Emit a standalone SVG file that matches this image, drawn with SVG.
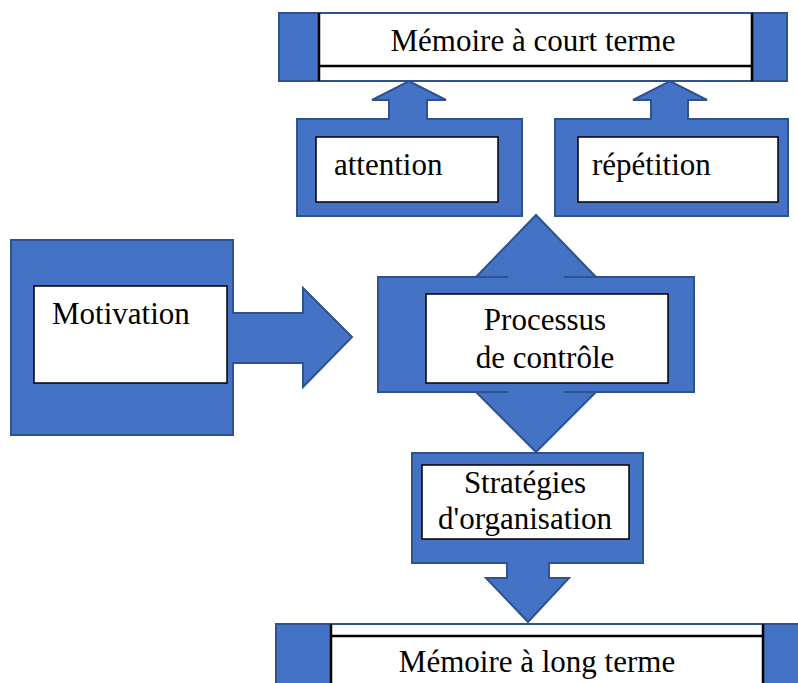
<svg xmlns="http://www.w3.org/2000/svg" width="798" height="683" viewBox="0 0 798 683">
<style>
.blue{fill:#4472C4;stroke:#2F528F;stroke-width:2;stroke-linejoin:miter}
.box{fill:#FFFFFF;stroke:#000000;stroke-width:1.5}
.ln{stroke:#000000;stroke-width:2.5;fill:none}
text{font-family:'Liberation Serif','Times New Roman','DejaVu Serif',serif;font-size:31px;fill:#000000}
.c{text-anchor:middle}
</style>
<rect width="798" height="683" fill="#FFFFFF"/>
<g id="connectors"/>
<g id="memoire-court-terme">
<rect class="blue" x="279" y="13" width="508" height="68"/>
<rect x="319" y="14" width="433" height="66" fill="#FFFFFF"/>
<path class="ln" d="M319,13 V81 M752,13 V81 M319,66 H752"/>
<text class="c" x="533" y="51" font-family="Liberation Serif, serif">Mémoire à court terme</text>
</g>
<g id="attention">
<path class="blue" d="M297,119 H389 V100 H372 L409,81 L446,100 H427 V119 H522 V216 H297 Z"/>
<rect class="box" x="316" y="137" width="182" height="65"/>
<text x="334" y="175" font-family="Liberation Serif, serif">attention</text>
</g>
<g id="repetition">
<path class="blue" d="M555,119 H651 V100 H633 L670,81 L707,100 H688 V119 H788 V216 H555 Z"/>
<rect class="box" x="578" y="137" width="200" height="65"/>
<text x="592" y="175" font-family="Liberation Serif, serif">répétition</text>
</g>
<g id="motivation">
<path class="blue" d="M11,240 H233 V313 H303 V288 L352,337 L303,387 V363 H233 V435 H11 Z"/>
<rect class="box" x="34" y="286" width="193" height="97"/>
<text x="52" y="324" font-family="Liberation Serif, serif">Motivation</text>
</g>
<g id="processus-controle">
<path class="blue" d="M378,277 H508 H476 L536,215 L596,277 H564 H694 V392 H564 H596 L536,452 L476,392 H508 H378 Z"/>
<rect class="box" x="426" y="294" width="242" height="89"/>
<text class="c" x="545" y="330" font-family="Liberation Serif, serif">Processus</text>
<text class="c" x="545" y="368" font-family="Liberation Serif, serif">de contrôle</text>
</g>
<g id="strategies-organisation">
<path class="blue" d="M412,453 H643 V563 H549 V578 H569 L528,622 L486,578 H507 V563 H412 Z"/>
<rect class="box" x="422" y="465" width="207" height="74"/>
<text class="c" x="525" y="493" font-family="Liberation Serif, serif">Stratégies</text>
<text class="c" x="525" y="529" font-family="Liberation Serif, serif">d'organisation</text>
</g>
<g id="memoire-long-terme">
<rect class="blue" x="276" y="624" width="530" height="70"/>
<rect x="331" y="625" width="432" height="60" fill="#FFFFFF"/>
<path class="ln" d="M331,624 V683 M763,624 V683 M331,636 H763"/>
<text class="c" x="537" y="672" font-family="Liberation Serif, serif">Mémoire à long terme</text>
</g>
</svg>
